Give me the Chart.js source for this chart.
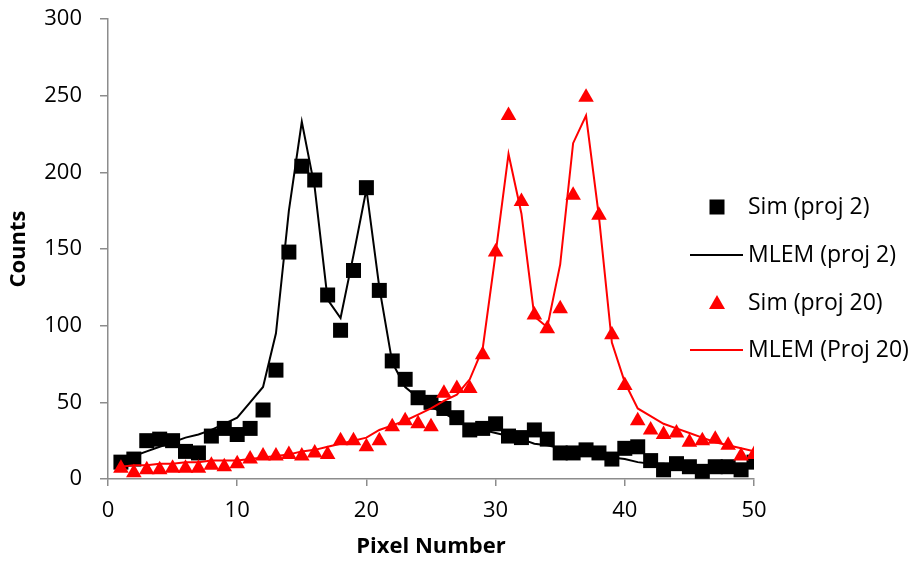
<!DOCTYPE html>
<html>
<head>
<meta charset="utf-8">
<title>Counts vs Pixel Number</title>
<script src="https://cdn.jsdelivr.net/npm/chart.js@4/dist/chart.umd.min.js"></script>
<style>
  html, body { margin: 0; padding: 0; background: #ffffff; }
  #wrap { width: 917px; height: 561px; }
</style>
</head>
<body>
<div id="wrap"><canvas id="chart" width="917" height="561"></canvas></div>
<script>
// data
const pixels = [1, 2, 3, 4, 5, 6, 7, 8, 9, 10, 11, 12, 13, 14, 15, 16, 17, 18, 19, 20,
  21, 22, 23, 24, 25, 26, 27, 28, 29, 30, 31, 32, 33, 34, 35, 36, 37, 38, 39, 40,
  41, 42, 43, 44, 45, 46, 47, 48, 49, 50];

const simProj2 = [11, 13, 25, 26, 25, 18, 17, 28, 33, 29, 33, 45, 71, 148, 204, 195, 120, 97, 136, 190,
  123, 77, 65, 53, 50, 46, 40, 32, 33, 36, 28, 27, 32, 26, 17, 17, 19, 17, 13, 20,
  21, 12, 6, 10, 8, 5, 8, 8, 6, 11];

const mlemProj2 = [11, 15, 18, 21, 24, 27, 29, 32, 36, 40, 50, 60, 95, 175, 233, 190, 117, 105, 146, 189,
  125, 76, 60, 53, 47, 43, 38, 34, 32, 30, 28, 26, 23, 22, 20, 18, 17, 15, 14, 13,
  11, 10, 10, 9, 9, 9, 9, 9, 9, 10];

const simProj20 = [7, 4, 6, 6, 7, 7, 7, 9, 8, 10, 13, 15, 15, 16, 15, 17, 16, 25, 25, 21,
  25, 34, 38, 36, 34, 56, 59, 59, 81, 148, 237, 181, 107, 98, 111, 185, 249, 172, 94, 61,
  38, 32, 29, 30, 24, 25, 26, 22, 15, 16];

const mlemProj20 = [8, 9, 9, 10, 10, 11, 11, 12, 12, 12, 13, 14, 15, 16, 18, 19, 21, 23, 25, 27,
  32, 35, 38, 42, 46, 51, 55, 65, 85, 147, 212, 173, 106, 99, 140, 219, 237, 171, 89, 63,
  46, 41, 36, 33, 30, 27, 24, 22, 20, 18];

const seriesNames = ["Sim (proj 2)", "MLEM (proj 2)", "Sim (proj 20)", "MLEM (Proj 20)"];
const xTicks = [0, 10, 20, 30, 40, 50];
const yTicks = [0, 50, 100, 150, 200, 250, 300];

function points(values) {
  return pixels.map((p, i) => ({ x: p, y: values[i] }));
}

const axisColor = "#8c8c8c";
const font = "'Open Sans', 'DejaVu Sans', sans-serif";

// legend drawn inside the plot, like the spreadsheet one
const sideLegend = {
  id: "sideLegend",
  afterDraw(chart) {
    const ctx = chart.ctx;
    const rows = [207, 255, 303, 350];
    ctx.save();
    ctx.font = "23px " + font;
    ctx.textBaseline = "middle";
    ctx.fillStyle = "#000000";

    // square
    ctx.fillRect(717 - 7.5, rows[0] - 7.5, 15, 15);
    // black line
    ctx.strokeStyle = "#000000";
    ctx.lineWidth = 2;
    ctx.beginPath();
    ctx.moveTo(690, rows[1]);
    ctx.lineTo(743, rows[1]);
    ctx.stroke();
    // triangle
    ctx.fillStyle = "#ff0000";
    ctx.beginPath();
    ctx.moveTo(717, rows[2] - 8);
    ctx.lineTo(725, rows[2] + 6);
    ctx.lineTo(709, rows[2] + 6);
    ctx.closePath();
    ctx.fill();
    // red line
    ctx.strokeStyle = "#ff0000";
    ctx.beginPath();
    ctx.moveTo(690, rows[3]);
    ctx.lineTo(743, rows[3]);
    ctx.stroke();

    ctx.fillStyle = "#000000";
    seriesNames.forEach((name, i) => {
      ctx.fillText(name, 748, rows[i]);
    });
    ctx.restore();
  }
};

const ctx = document.getElementById("chart").getContext("2d");

new Chart(ctx, {
  type: "line",
  data: {
    datasets: [
      {
        label: seriesNames[0],
        data: points(simProj2),
        showLine: false,
        pointStyle: "rect",
        pointRadius: 10.6,
        pointBackgroundColor: "#000000",
        pointBorderColor: "#000000",
        pointBorderWidth: 0,
        order: 4
      },
      {
        label: seriesNames[1],
        data: points(mlemProj2),
        borderColor: "#000000",
        borderWidth: 2,
        pointRadius: 0,
        tension: 0,
        order: 3
      },
      {
        label: seriesNames[2],
        data: points(simProj20),
        showLine: false,
        pointStyle: "triangle",
        pointRadius: 9,
        pointBackgroundColor: "#ff0000",
        pointBorderColor: "#ff0000",
        pointBorderWidth: 0,
        order: 2
      },
      {
        label: seriesNames[3],
        data: points(mlemProj20),
        borderColor: "#ff0000",
        borderWidth: 2,
        pointRadius: 0,
        tension: 0,
        order: 1
      }
    ]
  },
  options: {
    responsive: false,
    animation: false,
    layout: { padding: { top: 19, right: 163, left: 0, bottom: 0 } },
    plugins: {
      legend: { display: false },
      tooltip: { enabled: false }
    },
    scales: {
      x: {
        type: "linear",
        min: 0,
        max: 50,
        afterBuildTicks: (scale) => { scale.ticks = xTicks.map((v) => ({ value: v })); },
        afterFit: (scale) => {
          scale.height = 82;
          scale.paddingLeft = 0;
          scale.paddingRight = 0;
        },
        grid: { drawOnChartArea: false, drawTicks: true, tickLength: 7, color: axisColor, lineWidth: 1.5 },
        border: { color: axisColor, width: 1.5 },
        ticks: { color: "#000000", font: { family: font, size: 22 }, padding: 12, maxRotation: 0 },
        title: {
          display: true,
          text: "Pixel Number",
          color: "#000000",
          font: { family: font, size: 22, weight: "bold" },
          padding: { top: 0, bottom: 1 }
        }
      },
      y: {
        min: 0,
        max: 300,
        afterBuildTicks: (scale) => { scale.ticks = yTicks.map((v) => ({ value: v })); },
        afterFit: (scale) => {
          scale.width = 108;
          scale.paddingTop = 0;
          scale.paddingBottom = 0;
        },
        grid: { drawOnChartArea: false, drawTicks: true, tickLength: 8, color: axisColor, lineWidth: 1.5 },
        border: { color: axisColor, width: 1.5 },
        ticks: { color: "#000000", font: { family: font, size: 22 }, padding: 18 },
        title: {
          display: true,
          text: "Counts",
          color: "#000000",
          font: { family: font, size: 22, weight: "bold" },
          padding: { top: 6, bottom: 0 }
        }
      }
    }
  },
  plugins: [sideLegend]
});
</script>
</body>
</html>
